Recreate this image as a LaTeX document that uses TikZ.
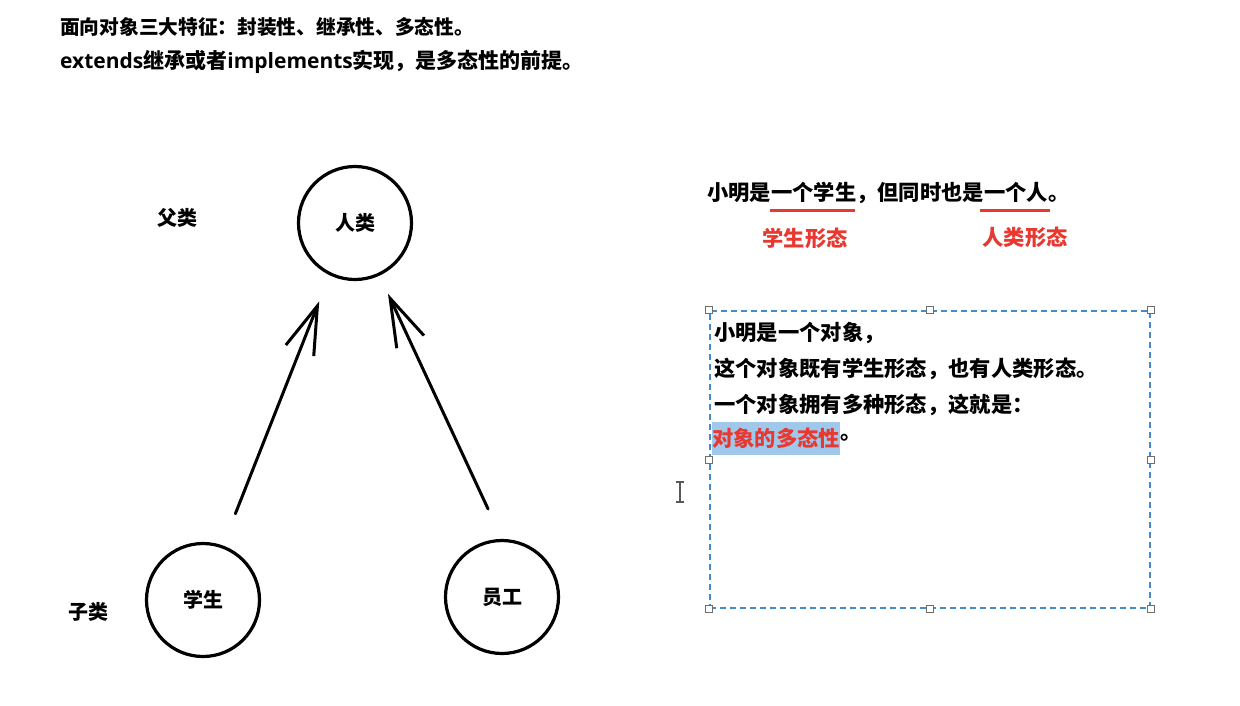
\documentclass[tikz,border=0pt]{standalone}
\usepackage{fontspec}
\setmainfont{Noto Sans CJK SC}
\newfontfamily\latin{Open Sans}
\usepackage{xcolor}
\definecolor{hlred}{RGB}{232,56,48}
\definecolor{boxblue}{RGB}{70,140,200}
\definecolor{selblue}{RGB}{160,200,235}
\definecolor{handlegrey}{RGB}{110,110,110}
\usetikzlibrary{arrows.meta,positioning}
\tikzset{
  ttl/.style={anchor=west, inner sep=0pt, font=\bfseries\fontsize{19.7}{23}\selectfont},
  cls/.style={draw, circle, line width=3.2pt, minimum size=113pt, inner sep=0pt, font=\bfseries\fontsize{20}{24}\selectfont},
  tag/.style={inner sep=0pt, font=\bfseries\fontsize{20}{24}\selectfont},
  arr/.style={-{Straight Barb[length=48pt,width=30pt]}, line width=3pt, line cap=round},
  txt/.style={anchor=west, inner sep=0pt, font=\bfseries\fontsize{21.3}{25}\selectfont},
  form/.style={inner sep=0pt, text=hlred, font=\bfseries\fontsize{21.3}{25}\selectfont},
  uline/.style={hlred, line width=3pt},
  selbox/.style={draw=boxblue, dash pattern=on 6pt off 4pt, line width=1.2pt, minimum width=440pt, minimum height=297pt, inner sep=0pt},
  handle/.style={draw=handlegrey, fill=white, line width=1pt, minimum size=7pt, inner sep=0pt},
  hilite/.style={fill=selblue, inner sep=0pt, minimum height=33pt, text=hlred, font=\bfseries\fontsize{21.3}{25}\selectfont}
}
\begin{document}
\begin{tikzpicture}[x=1pt, y=-1pt]
  \useasboundingbox[fill=white] (0,0) rectangle (1240,705);
  \node[ttl] (t1) at (60,27) {面向对象三大特征：封装性、继承性、多态性。};
  \node[ttl, font=\bfseries\fontsize{21}{25}\selectfont] (t2) at (60,62) {{\latin extends}继承或者{\latin implements}实现，是多态性的前提。};

  \node[cls] (rl) at (355,223) {人类};
  \node[cls] (xs) at (203,600) {学生};
  \node[cls] (yg) at (502,597) {员工};
  \node[tag] (fl) at (177,218) {父类};
  \node[tag] (zl) at (88,612) {子类};
  \draw[arr, shorten <=34pt, shorten >=28pt] (xs.70) -- (rl.-116);
  \draw[arr, shorten <=33pt, shorten >=20pt] (yg.north) -- (rl.-65);

  \node[txt] (s1) at (707,193) {小明是一个学生，但同时也是一个人。};
  \draw[uline] (770,210) -- (855,210);
  \draw[uline] (980,210) -- (1050,210);
  \node[form] (f1) at (805,238) {学生形态};
  \node[form] (f2) at (1025,237) {人类形态};

  \node[selbox] (box) at (930,459.5) {};
  \foreach \a in {north west,north,north east,east,south east,south,south west,west}
    \node[handle] at (box.\a) {};
  \node[txt] (b1) at (714,333) {小明是一个对象，};
  \node[txt] (b2) at (714,369) {这个对象既有学生形态，也有人类形态。};
  \node[txt] (b3) at (714,405) {一个对象拥有多种形态，这就是：};
  \node[hilite, anchor=west] (b4) at (712,438) {对象的多态性};
  \node[txt, right=0pt of b4] (b5) {。};

  \draw[handlegrey!80!black, line width=1.2pt] (680,482) -- (680,502) (676,482) -- (684,482) (676,502) -- (684,502);
\end{tikzpicture}
\end{document}
